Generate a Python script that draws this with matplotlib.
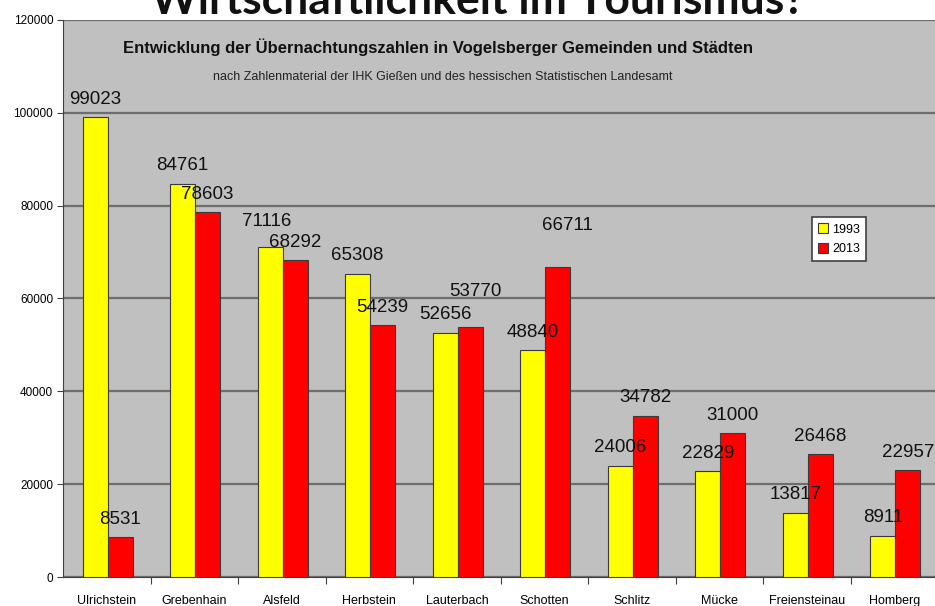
import numpy as np
import matplotlib
matplotlib.use('Agg')
from matplotlib import pyplot as plt

orte = ["Ulrichstein", "Grebenhain", "Alsfeld", "Herbstein", "Lauterbach",
        "Schotten", "Schlitz", "Mücke", "Freiensteinau", "Homberg"]
werte_1993 = [99023, 84761, 71116, 65308, 52656, 48840, 24006, 22829, 13817, 8911]
werte_2013 = [8531, 78603, 68292, 54239, 53770, 66711, 34782, 31000, 26468, 22957]
jahre = ["1993", "2013"]
y_ticks = [0, 20000, 40000, 60000, 80000, 100000, 120000]

# Beschriftungs-Versatz in Punkten (dx, dy), wie im Original verschoben
versatz_1993 = [(0, 9.7)] * 10
versatz_1993[2] = (-2.2, 15.1)
versatz_2013 = [(0, 9.7)] * 10
versatz_2013[4] = (3.6, 22.3)
versatz_2013[5] = (6.8, 26.6)

plt.rcParams['font.family'] = ['Liberation Sans', 'DejaVu Sans']

fig = plt.figure(figsize=(9.35, 6.06), dpi=100)
ax = fig.add_axes([63 / 935, 29 / 606, 872 / 935, 557 / 606])
ax.set_facecolor('#c0c0c0')

pitch = 87.55
idx = np.arange(len(orte))
w = 25 / pitch
start = 19.5 / pitch
b1 = ax.bar(idx + start + w / 2, werte_1993, w, color='#ffff00', edgecolor='#3a3a3a', lw=0.8,
            label=jahre[0], zorder=3)
b2 = ax.bar(idx + start + 1.5 * w, werte_2013, w, color='#ff0000', edgecolor='#3a3a3a', lw=0.8,
            label=jahre[1], zorder=3)

for bars, versatz in ((b1, versatz_1993), (b2, versatz_2013)):
    for b, off in zip(bars, versatz):
        ax.annotate(f"{int(b.get_height())}", (b.get_x() + b.get_width() / 2, b.get_height()),
                    xytext=off, textcoords='offset points', ha='center', va='baseline',
                    fontsize=13.5, color='#111111', zorder=4)

ax.set_xlim(0, 872 / pitch)
ax.set_ylim(0, 120000)
ax.set_yticks(y_ticks)
ax.set_yticklabels([str(v) for v in y_ticks])
ax.yaxis.grid(True, color='#6e6e6e', lw=1.6, zorder=1)
ax.set_axisbelow(True)

ax.set_xticks(np.arange(1, len(orte)))
ax.set_xticklabels([])
ax.set_xticks(idx + 0.5, minor=True)
ax.set_xticklabels(orte, minor=True, fontsize=9)
ax.tick_params(axis='x', which='major', length=5, color='#404040')
ax.tick_params(axis='x', which='minor', length=0, pad=13)
ax.tick_params(axis='y', length=4, pad=3, labelsize=8.5, color='#404040')

for s in ['top', 'right']:
    ax.spines[s].set_visible(False)
ax.spines['left'].set_color('#404040')
ax.spines['bottom'].set_color('#404040')

ax.text(0.43, 0.952, "Entwicklung der Übernachtungszahlen in Vogelsberger Gemeinden und Städten",
        transform=ax.transAxes, ha='center', va='center', fontsize=12, fontweight='bold', color='#111111')
ax.text(0.436, 0.897, "nach Zahlenmaterial der IHK Gießen und des hessischen Statistischen Landesamt",
        transform=ax.transAxes, ha='center', va='center', fontsize=9, color='#222222')

leg = ax.legend(loc='upper left', bbox_to_anchor=(0.859, 0.646), borderaxespad=0, fontsize=9,
                frameon=True, fancybox=False, edgecolor='#404040', framealpha=1, handlelength=0.8,
                handleheight=0.8, handletextpad=0.3, borderpad=0.5, labelspacing=0.6)
leg.get_frame().set_linewidth(1.2)

fig.text(478 / 935, 1 - 14 / 606, "Wirtschaftlichkeit im Tourismus?", ha='center', va='baseline',
         fontsize=32, fontweight='bold', family=['Lato', 'DejaVu Sans'], color='#111111')

fig.savefig('out.png', dpi=100, facecolor='white')
